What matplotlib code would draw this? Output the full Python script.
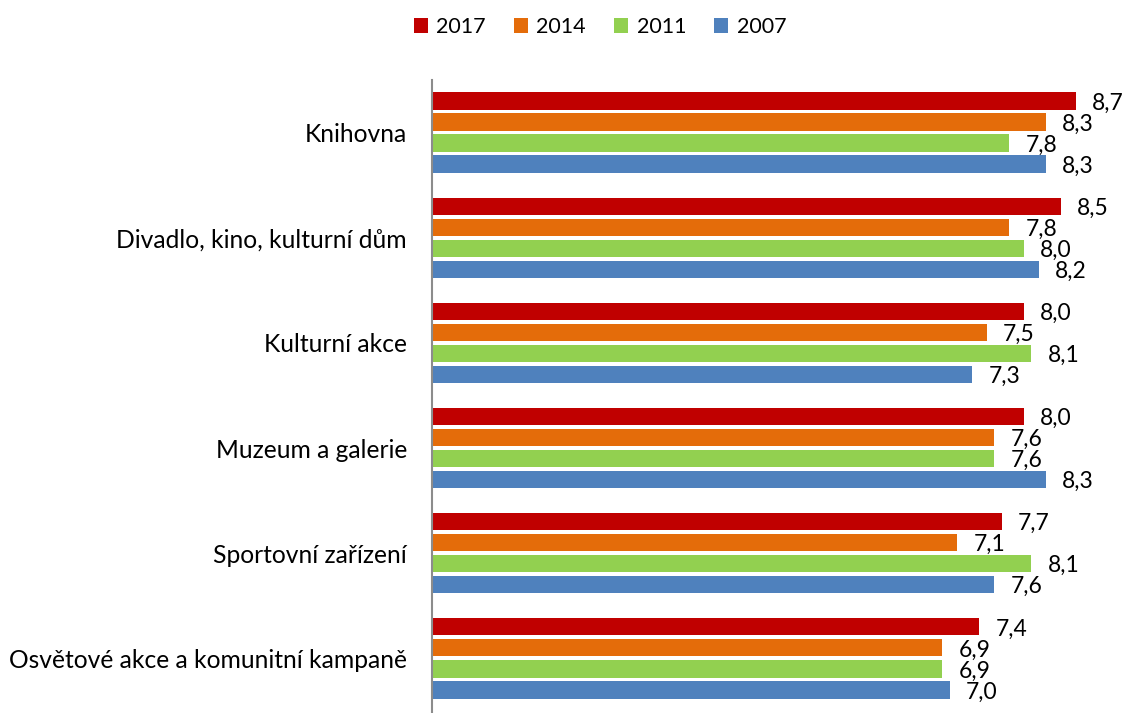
import numpy as np
import matplotlib
matplotlib.use("Agg")
import matplotlib.pyplot as plt
from matplotlib.patches import Patch

plt.rcParams['font.family'] = ['Lato', 'DejaVu Sans']

categories = ["Knihovna", "Divadlo, kino, kulturní dům", "Kulturní akce",
              "Muzeum a galerie", "Sportovní zařízení",
              "Osvětové akce a komunitní kampaně"]
years = ["2017", "2014", "2011", "2007"]
v2017 = [8.7, 8.5, 8.0, 8.0, 7.7, 7.4]
v2014 = [8.3, 7.8, 7.5, 7.6, 7.1, 6.9]
v2011 = [7.8, 8.0, 8.1, 7.6, 8.1, 6.9]
v2007 = [8.3, 8.2, 7.3, 8.3, 7.6, 7.0]
series = [v2017, v2014, v2011, v2007]
colors = ["#C00000", "#E46C0A", "#92D050", "#4F81BD"]

fig = plt.figure(figsize=(11.27, 7.13), dpi=100)
ax = fig.add_axes([432 / 1127, 0.0, 688 / 1127, 1 - 80 / 713])

y = np.arange(len(categories))
step = 0.2
for i, (vals, col) in enumerate(zip(series, colors)):
    pos = y + (i - 1.5) * step
    ax.barh(pos, vals, height=0.165, color=col, linewidth=0)
    for p, v in zip(pos, vals):
        ax.text(v + 0.22, p + 0.02, f"{v:.1f}".replace(".", ","),
                va="center", ha="left", fontsize=16.5, color="black")

ax.set_xlim(0, 9.3)
ax.set_ylim(5.52, -0.5)
ax.set_yticks(y)
ax.set_yticklabels(categories, fontsize=17.7)
ax.tick_params(axis="y", length=0, pad=18)
ax.set_xticks([])
for s in ["top", "right", "bottom"]:
    ax.spines[s].set_visible(False)
ax.spines["left"].set_color("#8c8c8c")
ax.spines["left"].set_linewidth(1.5)

handles = [Patch(facecolor=c, label=l) for c, l in zip(colors, years)]
fig.legend(handles=handles, loc="center", bbox_to_anchor=(600 / 1127, 1 - 27 / 713),
           ncol=4, frameon=False, fontsize=15.5, handlelength=0.65, handleheight=0.65,
           handletextpad=0.4, columnspacing=1.3)

fig.savefig("out.png", dpi=100)
